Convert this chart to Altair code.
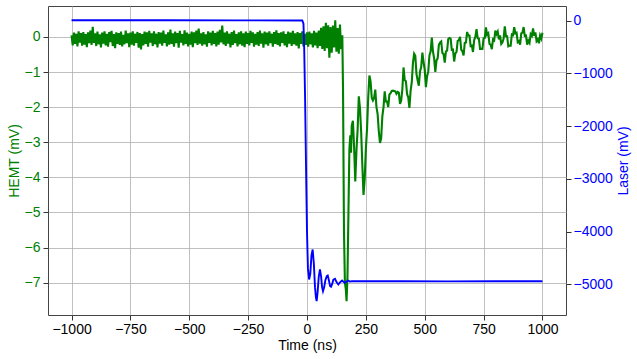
import altair as alt
import pandas as pd

# ---------------- data ----------------
# HEMT noise before the event, sampled every 5 ns from -1000 to 145 ns
hemt_noise_start = -1000
hemt_noise_step = 5
hemt_noise = [
    0.04, -0.24, 0.12, -0.20, 0.09, -0.27, 0.16, -0.16, 0.11, -0.25,
    0.14, -0.22, 0.08, -0.29, 0.13, -0.18, 0.18, -0.23, 0.29, -0.17,
    0.10, -0.26, 0.15, -0.21, 0.07, -0.30, 0.12, -0.19, 0.16, -0.24,
    0.09, -0.28, 0.14, -0.15, 0.17, -0.26, 0.08, -0.32, 0.13, -0.20,
    0.11, -0.23, 0.15, -0.27, 0.06, -0.21, 0.18, -0.18, 0.10, -0.29,
    0.12, -0.22, 0.16, -0.25, 0.09, -0.17, 0.14, -0.31, 0.11, -0.36,
    0.08, -0.24, 0.15, -0.20, 0.13, -0.28, 0.17, -0.16, 0.10, -0.26,
    0.16, -0.21, 0.09, -0.30, 0.14, -0.19, 0.12, -0.25, 0.18, -0.17,
    0.07, -0.27, 0.13, -0.22, 0.21, -0.20, 0.10, -0.28, 0.15, -0.18,
    0.11, -0.31, 0.17, -0.16, 0.08, -0.24, 0.19, -0.20, 0.12, -0.27,
    0.09, -0.22, 0.15, -0.29, 0.13, -0.18, 0.18, -0.23, 0.24, -0.19,
    0.10, -0.25, 0.14, -0.21, 0.07, -0.28, 0.16, -0.17, 0.12, -0.24,
    0.17, -0.20, 0.11, -0.27, 0.15, -0.22, 0.20, -0.16, 0.32, -0.21,
    0.12, -0.26, 0.16, -0.19, 0.09, -0.30, 0.14, -0.23, 0.18, -0.18,
    0.08, -0.27, 0.13, -0.21, 0.16, -0.25, 0.10, -0.29, 0.15, -0.20,
    0.11, -0.24, 0.17, -0.17, 0.13, -0.28, 0.09, -0.22, 0.14, -0.26,
    0.18, -0.19, 0.10, -0.31, 0.15, -0.21, 0.12, -0.25, 0.16, -0.18,
    0.09, -0.28, 0.14, -0.20, 0.19, -0.23, 0.11, -0.27, 0.13, -0.17,
    0.16, -0.24, 0.08, -0.29, 0.15, -0.19, 0.12, -0.26, 0.17, -0.21,
    0.10, -0.25, 0.14, -0.33, 0.11, -0.20, 0.16, -0.27, 0.09, -0.23,
    0.13, -0.28, 0.15, -0.21, 0.10, -0.30, 0.17, -0.24, 0.12, -0.32,
    0.18, -0.26, 0.26, -0.34, 0.30, -0.40, 0.40, -0.32, 0.33, -0.59,
    0.28, -0.45, 0.32, -0.30, 0.47, -0.42, 0.25, -0.48, 0.35, -0.35,
]

# The drop and first recovery (150-187 ns)
hemt_drop_t = [150, 153, 157, 161, 165, 168, 172, 176, 180, 184, 187]
hemt_drop_v = [0.05, -1.5, -5.5, -7.0, -7.2, -7.53, -6.8, -5.0, -3.2, -2.8, -3.3]

# Recovery, sampled every 5 ns from 190 to 1000 ns
hemt_rec_start = 190
hemt_rec_step = 5
hemt_rec = [
    -2.53, -2.39, -3.14, -4.12, -3.25, -2.64, -1.69, -2.03, -2.70, -3.65,
    -4.50, -4.05, -3.19, -2.62, -1.73, -1.10, -1.27, -1.73, -1.81, -1.74,
    -1.50, -2.00, -2.20, -2.69, -3.02, -2.89, -2.26, -2.00, -1.55, -1.84,
    -1.84, -2.00, -1.64, -1.60, -1.54, -1.53, -1.54, -1.55, -1.62, -1.57,
    -1.59, -1.91, -1.81, -1.49, -0.87, -1.23, -1.26, -1.63, -1.72, -2.02,
    -1.54, -1.29, -0.74, -0.48, -0.54, -1.06, -1.24, -1.39, -0.98, -0.86,
    -0.45, -0.71, -0.93, -1.43, -1.12, -0.99, -0.53, -0.42, -0.02, -0.41,
    -0.62, -1.00, -0.67, -0.61, -0.23, -0.16, -0.13, -0.46, -0.49, -0.73,
    -0.41, -0.39, -0.06, -0.03, -0.05, -0.37, -0.36, -0.70, -0.47, -0.43,
    -0.11, -0.09, 0.00, -0.36, -0.41, -0.53, -0.17, -0.16, 0.14, 0.04,
    0.04, -0.26, -0.25, -0.43, -0.09, 0.00, 0.22, -0.04, -0.05, -0.34,
    -0.34, -0.34, -0.04, -0.03, 0.27, 0.06, 0.10, -0.20, -0.22, -0.35,
    -0.07, -0.10, 0.18, 0.08, 0.15, -0.07, 0.04, -0.20, -0.16, -0.05,
    0.30, 0.02, 0.02, -0.27, -0.25, -0.25, 0.07, 0.05, 0.28, 0.10,
    0.12, -0.15, -0.12, -0.22, 0.10, 0.12, 0.28, 0.03, 0.04, -0.22,
    -0.11, -0.17, 0.08, 0.03, 0.24, 0.03, 0.13, -0.12, -0.07, -0.18,
    0.04, -0.05, 0.12,
]

# Laser trace
laser_t = [
    -1000, -600, -300, -20, -15, -12, -8, -4, 0, 4, 9, 14, 19, 24, 29, 34, 38, 41,
    45, 50, 55, 60, 64, 68, 73, 78, 84, 88, 93, 98, 102, 107, 112, 119, 126,
    133, 140, 149, 155, 161, 168, 175, 182, 190, 250, 400, 600, 800, 1000,
]
laser_v = [
    5, 5, 3, 0, -60, -500, -1500, -2800, -4000, -4700, -4905, -4800, -4450, -4337,
    -4600, -5050, -5250, -5316, -5150, -4850, -4716, -4850, -5050, -5127, -5050,
    -4920, -4840, -4830, -4920, -5030, -5044, -4990, -4910, -4892, -4960, -5000,
    -4960, -4924, -4950, -4968, -4945, -4925, -4945, -4940, -4938, -4940, -4942,
    -4940, -4940,
]

x_ticks = [-1000, -750, -500, -250, 0, 250, 500, 750, 1000]
left_ticks = [-7, -6, -5, -4, -3, -2, -1, 0]
right_ticks = [-5000, -4000, -3000, -2000, -1000, 0]

# ---------------- tables ----------------
noise_t = [hemt_noise_start + hemt_noise_step * i for i in range(len(hemt_noise))]
rec_t = [hemt_rec_start + hemt_rec_step * i for i in range(len(hemt_rec))]
hemt_df = pd.DataFrame({
    "t": noise_t + hemt_drop_t + rec_t,
    "v": hemt_noise + hemt_drop_v + hemt_rec,
})
laser_df = pd.DataFrame({"t": laser_t, "v": laser_v})

FONT = "Liberation Sans"
W, H = 518, 309

x_enc = alt.X(
    "t:Q",
    scale=alt.Scale(domain=[-1100, 1100], nice=False, zero=False),
    axis=alt.Axis(
        values=x_ticks, format="d", title="Time (ns)",
        grid=True, gridColor="#b0b0b0", gridWidth=0.8,
        labelColor="black", titleColor="black",
        labelPadding=2, titleX=W / 2, titleY=34,
        titleBaseline="alphabetic", titleAlign="center",
    ),
)

hemt = alt.Chart(hemt_df).mark_line(color="green", strokeWidth=2.1).encode(
    x=x_enc,
    y=alt.Y(
        "v:Q",
        scale=alt.Scale(domain=[-7.92, 0.88], nice=False, zero=False),
        axis=alt.Axis(
            orient="left", values=left_ticks, format="d", title="HEMT (mV)",
            grid=True, gridColor="#b0b0b0", gridWidth=0.8,
            labelColor="green", titleColor="green", labelPadding=3,
            titleAngle=270, titleX=-30, titleY=H / 2,
            titleBaseline="alphabetic", titleAlign="center",
        ),
    ),
)

laser = alt.Chart(laser_df).mark_line(color="blue", strokeWidth=1.9).encode(
    x=alt.X("t:Q", scale=alt.Scale(domain=[-1100, 1100], nice=False, zero=False)),
    y=alt.Y(
        "v:Q",
        scale=alt.Scale(domain=[-5578, 275], nice=False, zero=False),
        axis=alt.Axis(
            orient="right", values=right_ticks, format="d", title="Laser (mV)",
            grid=False, labelColor="blue", titleColor="blue", labelPadding=2,
            titleAngle=270, titleX=61, titleY=H / 2,
            titleBaseline="alphabetic", titleAlign="center",
        ),
    ),
)

chart = (
    alt.layer(hemt, laser)
    .resolve_scale(y="independent")
    .properties(
        width=W, height=H,
        autosize=alt.AutoSizeParams(type="none"),
        padding={"left": 48, "top": 6, "right": 637 - 48 - W, "bottom": 359 - 6 - H},
        background="white",
    )
    .configure_view(stroke="#444", strokeWidth=1)
    .configure_axis(
        labelFont=FONT, titleFont=FONT, labelFontSize=14, titleFontSize=14,
        titleFontWeight="normal", tickSize=5, tickColor="#333", tickWidth=1,
        domain=False,
    )
)

chart.save("out.html", embed_options={"renderer": "svg", "actions": False})
